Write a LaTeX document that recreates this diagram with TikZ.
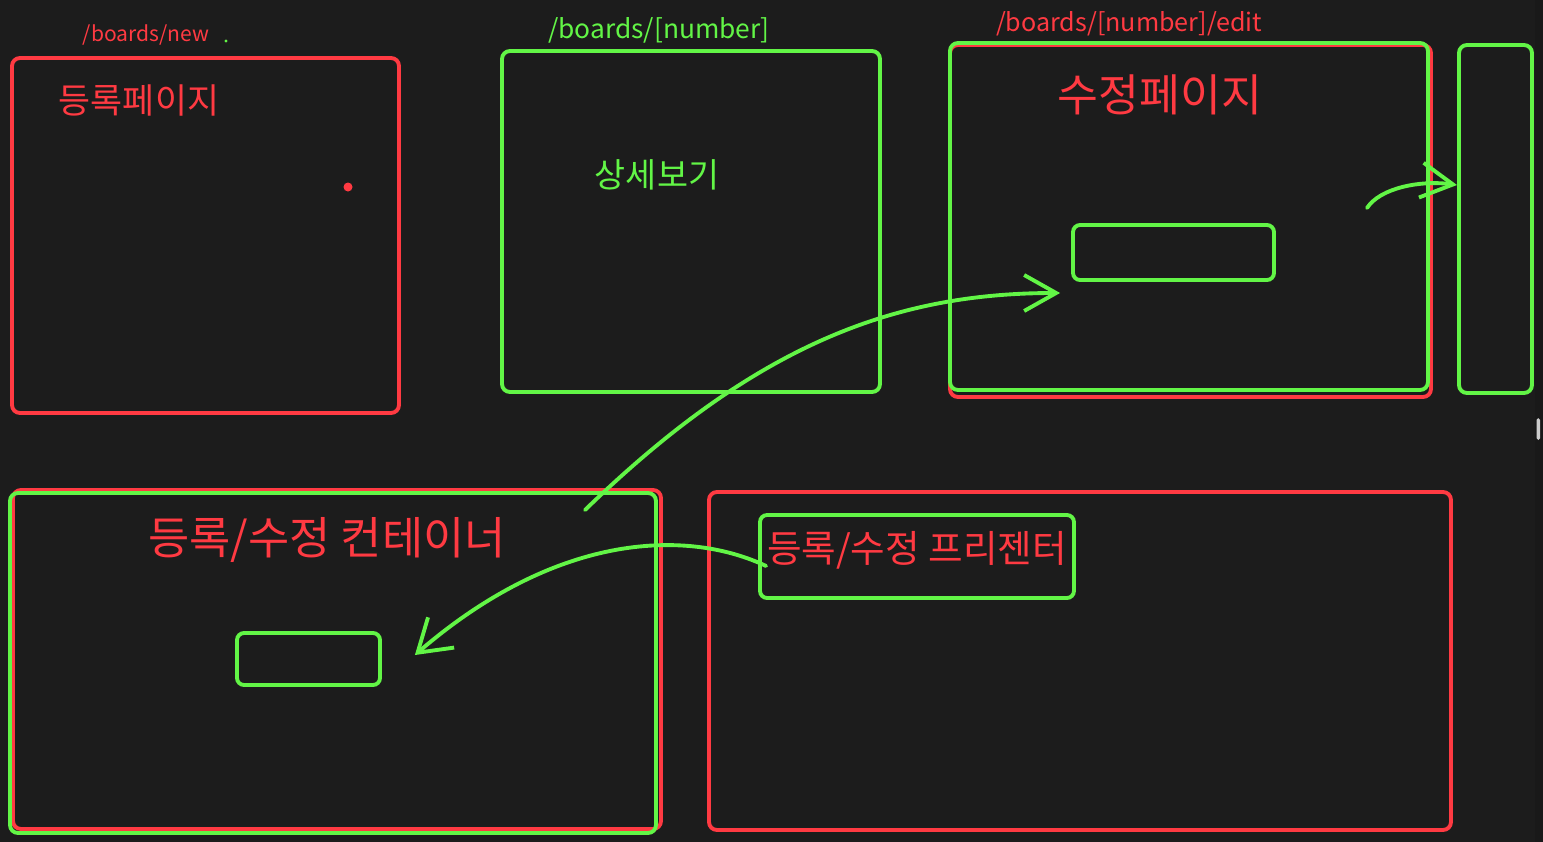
\documentclass[tikz,border=0pt]{standalone}
\usepackage{fontspec}
\setmainfont{Noto Sans CJK KR}
\usepackage{xcolor}
\usetikzlibrary{arrows.meta,positioning}
\definecolor{penred}{RGB}{255,58,66}
\definecolor{pengreen}{RGB}{98,245,70}
\definecolor{board}{RGB}{28,28,28}
\newcommand{\fs}[1]{\fontsize{#1}{#1}\selectfont}

\begin{document}
\begin{tikzpicture}[x=0.02cm,y=-0.02cm]
  \tikzset{redbox/.style={draw=penred, line width=2.2pt, rounded corners=0.16cm},
           greenbox/.style={draw=pengreen, line width=2.2pt, rounded corners=0.16cm},
           btnbox/.style={draw=pengreen, line width=2.2pt, rounded corners=0.14cm, inner sep=0pt},
           redtxt/.style={text=penred, inner sep=0pt},
           greentxt/.style={text=pengreen, inner sep=0pt},
           pen/.style={draw=pengreen, line width=2.2pt, line cap=round}}
    % canvas
    \fill[board] (0,0) rectangle (1543,842);
    \fill[black!90] (1535,0) rectangle (1543,842);
    \fill[white!80!black, rounded corners=1pt] (1536.5,418) rectangle (1540,440);

    % /boards/new
    \draw[redbox] (12,58) rectangle (399,413);
    \node[redtxt, font=\fs{12pt}] (newurl) at (146,35) {/boards/new};
    \fill[pengreen] (226,41) circle (1.6);
    \node[redtxt, font=\fs{19.8pt}] (newpage) at (139,100) {등록페이지};
    \fill[penred] (348,187) circle (4.5);

    % /boards/[number]
    \draw[greenbox] (502,51) rectangle (880,392);
    \node[greentxt, font=\fs{15pt}] (detailurl) at (659,30) {/boards/[number]};
    \node[greentxt, font=\fs{19.2pt}] (detailpage) at (657,175) {상세보기};

    % /boards/[number]/edit
    \draw[redbox] (950,45) rectangle (1431,397);
    \draw[greenbox] (950,43) rectangle (1428,390);
    \node[redtxt, font=\fs{14.3pt}] (editurl) at (1129,24) {/boards/[number]/edit};
    \node[redtxt, font=\fs{25.3pt}] (editpage) at (1160,95) {수정페이지};
    \node[btnbox, minimum width=4.02cm, minimum height=1.1cm] (editbtn) at (1173.5,252.5) {};
    \draw[greenbox] (1459,45) rectangle (1532,393);

    % container
    \draw[redbox] (13,490) rectangle (661,829);
    \draw[greenbox] (10,493) rectangle (656,833);
    \node[redtxt, font=\fs{25.5pt}] (container) at (327,540) {등록/수정 컨테이너};
    \node[btnbox, minimum width=2.86cm, minimum height=1.04cm] (contbtn) at (308.5,659) {};

    % presenter
    \draw[redbox] (709,492) rectangle (1451,830);
    \node[btnbox, minimum width=6.28cm, minimum height=1.66cm] (presbox) at (917,556.5) {};
    \node[redtxt, font=\fs{21.4pt}] (presenter) at (917,550) {등록/수정 프리젠터};

    % arrows
    \coordinate (contTail) at (585,510);
    \coordinate (editHead) at ([xshift=-0.22cm,yshift=-0.81cm]editbtn.west);
    \coordinate (presTail) at ([xshift=0.16cm,yshift=-0.19cm]presbox.west);
    \coordinate (contHead) at ([xshift=0.66cm,yshift=0.08cm]contbtn.east);
    \coordinate (sideTail) at (1367,208);
    \coordinate (sideHead) at (1457,185);

    \draw[pen, -{Straight Barb[length=0.64cm, width=0.72cm, line width=2.2pt]}]
      (contTail) .. controls (760,340) and (900,293) .. (editHead);
    \draw[pen, -{Straight Barb[length=0.62cm, width=0.8cm, line width=2.2pt]}]
      (presTail) .. controls (690,530) and (560,530) .. (contHead);
    \draw[pen, -{Straight Barb[length=0.64cm, width=0.7cm, line width=2.2pt]}]
      (sideTail) .. controls (1380,188) and (1420,180) .. (sideHead);
\end{tikzpicture}
\end{document}
